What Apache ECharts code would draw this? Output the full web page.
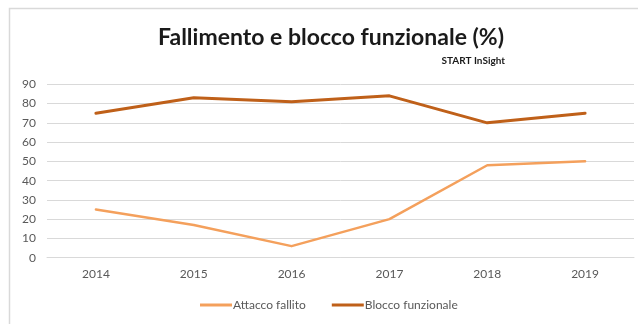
<!DOCTYPE html>
<html>
<head>
<meta charset="utf-8">
<script src="https://cdn.jsdelivr.net/npm/echarts@6/dist/echarts.min.js"></script>
<style>
  html, body { margin: 0; padding: 0; background: #ffffff; }
  #chart { width: 638px; height: 324px; }
</style>
</head>
<body>
<div id="chart"></div>
<script>
// Years on the category axis
const years = ['2014', '2015', '2016', '2017', '2018', '2019'];
// Percentages per series
const attaccoFallito = [25, 17, 6, 20, 48, 50];
const bloccoFunzionale = [75, 83, 81, 84, 70, 75];
// Value axis ticks
const yTicks = [0, 10, 20, 30, 40, 50, 60, 70, 80, 90];

const chart = echarts.init(document.getElementById('chart'), null, { renderer: 'canvas' });

const labelColor = '#595959';
const font = 'Lato, "Open Sans", sans-serif';

chart.setOption({
  animation: false,
  backgroundColor: '#ffffff',
  graphic: [
    {
      type: 'polyline',
      shape: { points: [[9.5, 324], [9.5, 8.5], [638, 8.5]] },
      style: { stroke: '#d9d9d9', lineWidth: 1.5, fill: null },
      silent: true
    }
  ],
  title: [
    {
      text: 'Fallimento e blocco funzionale (%)',
      left: 326,
      textAlign: 'center',
      top: 21,
      textStyle: { fontFamily: font, fontWeight: 'bold', fontSize: 23, color: '#1a1a1a' }
    },
    {
      text: 'START InSight',
      left: 500,
      textAlign: 'right',
      top: 51,
      textStyle: { fontFamily: font, fontWeight: 'bold', fontSize: 10, color: '#1a1a1a' }
    }
  ],
  legend: {
    bottom: 8,
    left: 195,
    itemWidth: 32,
    itemHeight: 3,
    itemGap: 26,
    icon: 'rect',
    textStyle: { fontFamily: font, fontSize: 12, color: labelColor, padding: [0, 0, 0, -4] },
    data: ['Attacco fallito', 'Blocco funzionale']
  },
  grid: { left: 47, right: 4, top: 84.3, bottom: 66.3, containLabel: false },
  xAxis: {
    type: 'category',
    data: years,
    boundaryGap: true,
    axisLine: { lineStyle: { color: '#d9d9d9', width: 1 } },
    axisTick: { show: false },
    axisLabel: { fontFamily: font, fontSize: 12, color: labelColor, margin: 10 }
  },
  yAxis: {
    type: 'value',
    min: yTicks[0],
    max: yTicks[yTicks.length - 1],
    interval: 10,
    axisLine: { show: false },
    axisTick: { show: false },
    splitLine: { lineStyle: { color: '#d9d9d9', width: 1 } },
    axisLabel: { fontFamily: font, fontSize: 12, color: labelColor, margin: 11 }
  },
  series: [
    {
      name: 'Attacco fallito',
      type: 'line',
      data: attaccoFallito,
      symbol: 'none',
      color: '#F4A05C',
      lineStyle: { width: 2.5, color: '#F4A05C', cap: 'round', join: 'round' }
    },
    {
      name: 'Blocco funzionale',
      type: 'line',
      data: bloccoFunzionale,
      symbol: 'none',
      color: '#BF6019',
      lineStyle: { width: 3, color: '#BF6019', cap: 'round', join: 'round' }
    }
  ]
});
</script>
</body>
</html>
